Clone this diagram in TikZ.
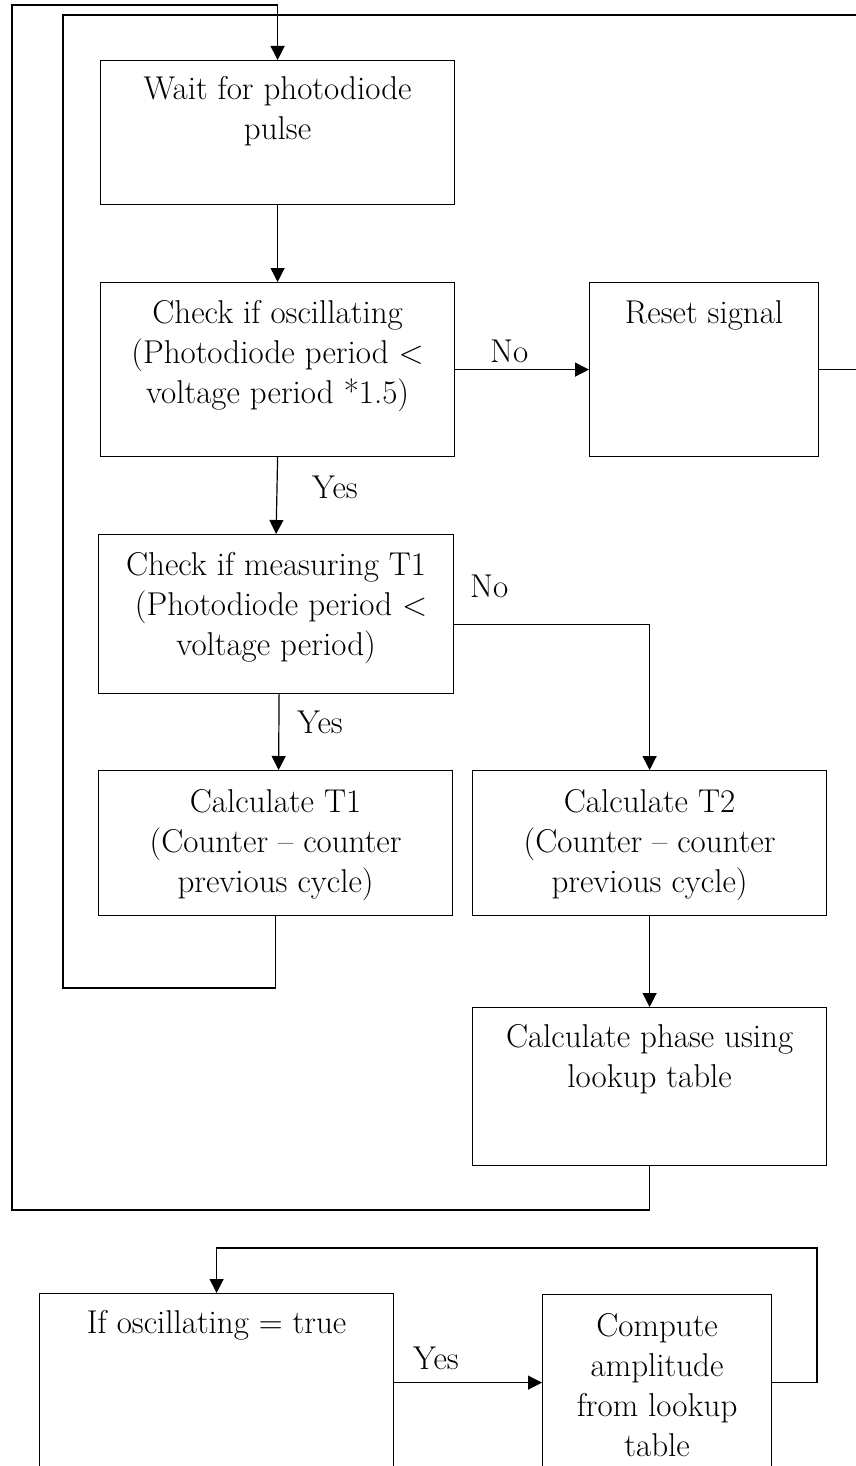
\documentclass[tikz,border=0pt]{standalone}
\usetikzlibrary{arrows.meta}

\tikzset{
  flowbox/.style={draw, line width=1.2pt, rectangle, inner sep=0pt, anchor=north west},
  boxtext/.style={align=center, anchor=base, inner sep=0pt, font=\fontsize{33}{40}\selectfont},
  tag/.style={anchor=base west, inner sep=0pt, font=\fontsize{33}{40}\selectfont},
  wire/.style={line width=1.2pt},
  arrowwire/.style={wire, -{Triangle[length=14pt,width=14pt]}}
}

\begin{document}
\begin{tikzpicture}[x=1pt, y=-1pt]
  \useasboundingbox (0,0) rectangle (856,1466);

  % ---------- main measurement loop ----------
  \node[flowbox, minimum width=354pt, minimum height=144pt] (wait)  at (100,60)  {};
  \node[flowbox, minimum width=354pt, minimum height=174pt] (osc)   at (100,282) {};
  \node[flowbox, minimum width=229pt, minimum height=174pt] (reset) at (589,282) {};
  \node[flowbox, minimum width=355pt, minimum height=159pt] (meas)  at (98,534)  {};
  \node[flowbox, minimum width=354pt, minimum height=145pt] (tone)  at (98,770)  {};
  \node[flowbox, minimum width=354pt, minimum height=145pt] (ttwo)  at (472,770) {};
  \node[flowbox, minimum width=354pt, minimum height=158pt] (phase) at (472,1007) {};

  % text nodes are anchored at the baseline of their last line (40pt leading)
  \node[boxtext] (waitT)  at ([yshift=-80pt]wait.north)   {Wait for photodiode\\pulse};
  \node[boxtext] (oscT)   at ([yshift=-121pt]osc.north)   {Check if oscillating\\(Photodiode period <\\voltage period *1.5)};
  \node[boxtext] (resetT) at ([yshift=-41pt]reset.north)  {Reset signal};
  \node[boxtext] (measT)  at ([yshift=-121pt]meas.north)  {Check if measuring T1\\\ (Photodiode period <\\voltage period)};
  \node[boxtext] (toneT)  at ([yshift=-122pt]tone.north)  {Calculate T1\\(Counter -- counter\\previous cycle)};
  \node[boxtext] (ttwoT)  at ([yshift=-122pt]ttwo.north)  {Calculate T2\\(Counter -- counter\\previous cycle)};
  \node[boxtext] (phaseT) at ([yshift=-80pt]phase.north)  {Calculate phase using\\lookup table};

  % forward connectors
  \draw[arrowwire] (wait.south) -- (osc.north);
  \draw[arrowwire] (osc.south) -- (meas.north);
  \draw[arrowwire] ([xshift=3pt]meas.south) -- ([xshift=3pt]tone.north);
  \draw[arrowwire] (osc.east) -- (reset.west);
  \draw[arrowwire] ([yshift=-10pt]meas.east) -| (ttwo.north);
  \draw[arrowwire] (ttwo.south) -- (phase.north);

  \node[tag] (yesA) at (312,498) {Yes};
  \node[tag] (yesB) at (297,733) {Yes};
  \node[tag] (noA)  at (490,362) {No};
  \node[tag] (noB)  at (470,597) {No};

  % return paths
  \coordinate (join) at (277,15);
  \draw[wire] (reset.east) -- ([xshift=50pt]reset.east) |- (join);
  \draw[wire] (tone.south) |- (63,988) -- (63,15) -- (join);
  \draw[arrowwire] (phase.south) |- (12,1210) -- (12,5) -| (wait.north);

  % ---------- amplitude loop ----------
  \node[flowbox, minimum width=354pt, minimum height=178pt] (iftrue) at (39,1293)  {};
  \node[flowbox, minimum width=229pt, minimum height=176pt] (amp)    at (542,1294) {};

  \node[boxtext] (iftrueT) at ([yshift=-40pt]iftrue.north) {If oscillating = true};
  \node[boxtext] (ampT)    at ([yshift=-162pt]amp.north)   {Compute\\amplitude\\from lookup\\table};

  \draw[arrowwire] (iftrue.east) -- (amp.west);
  \node[tag] (yesC) at (413,1369) {Yes};
  \draw[arrowwire] (amp.east) -| (817,1248) -| (iftrue.north);
\end{tikzpicture}
\end{document}
